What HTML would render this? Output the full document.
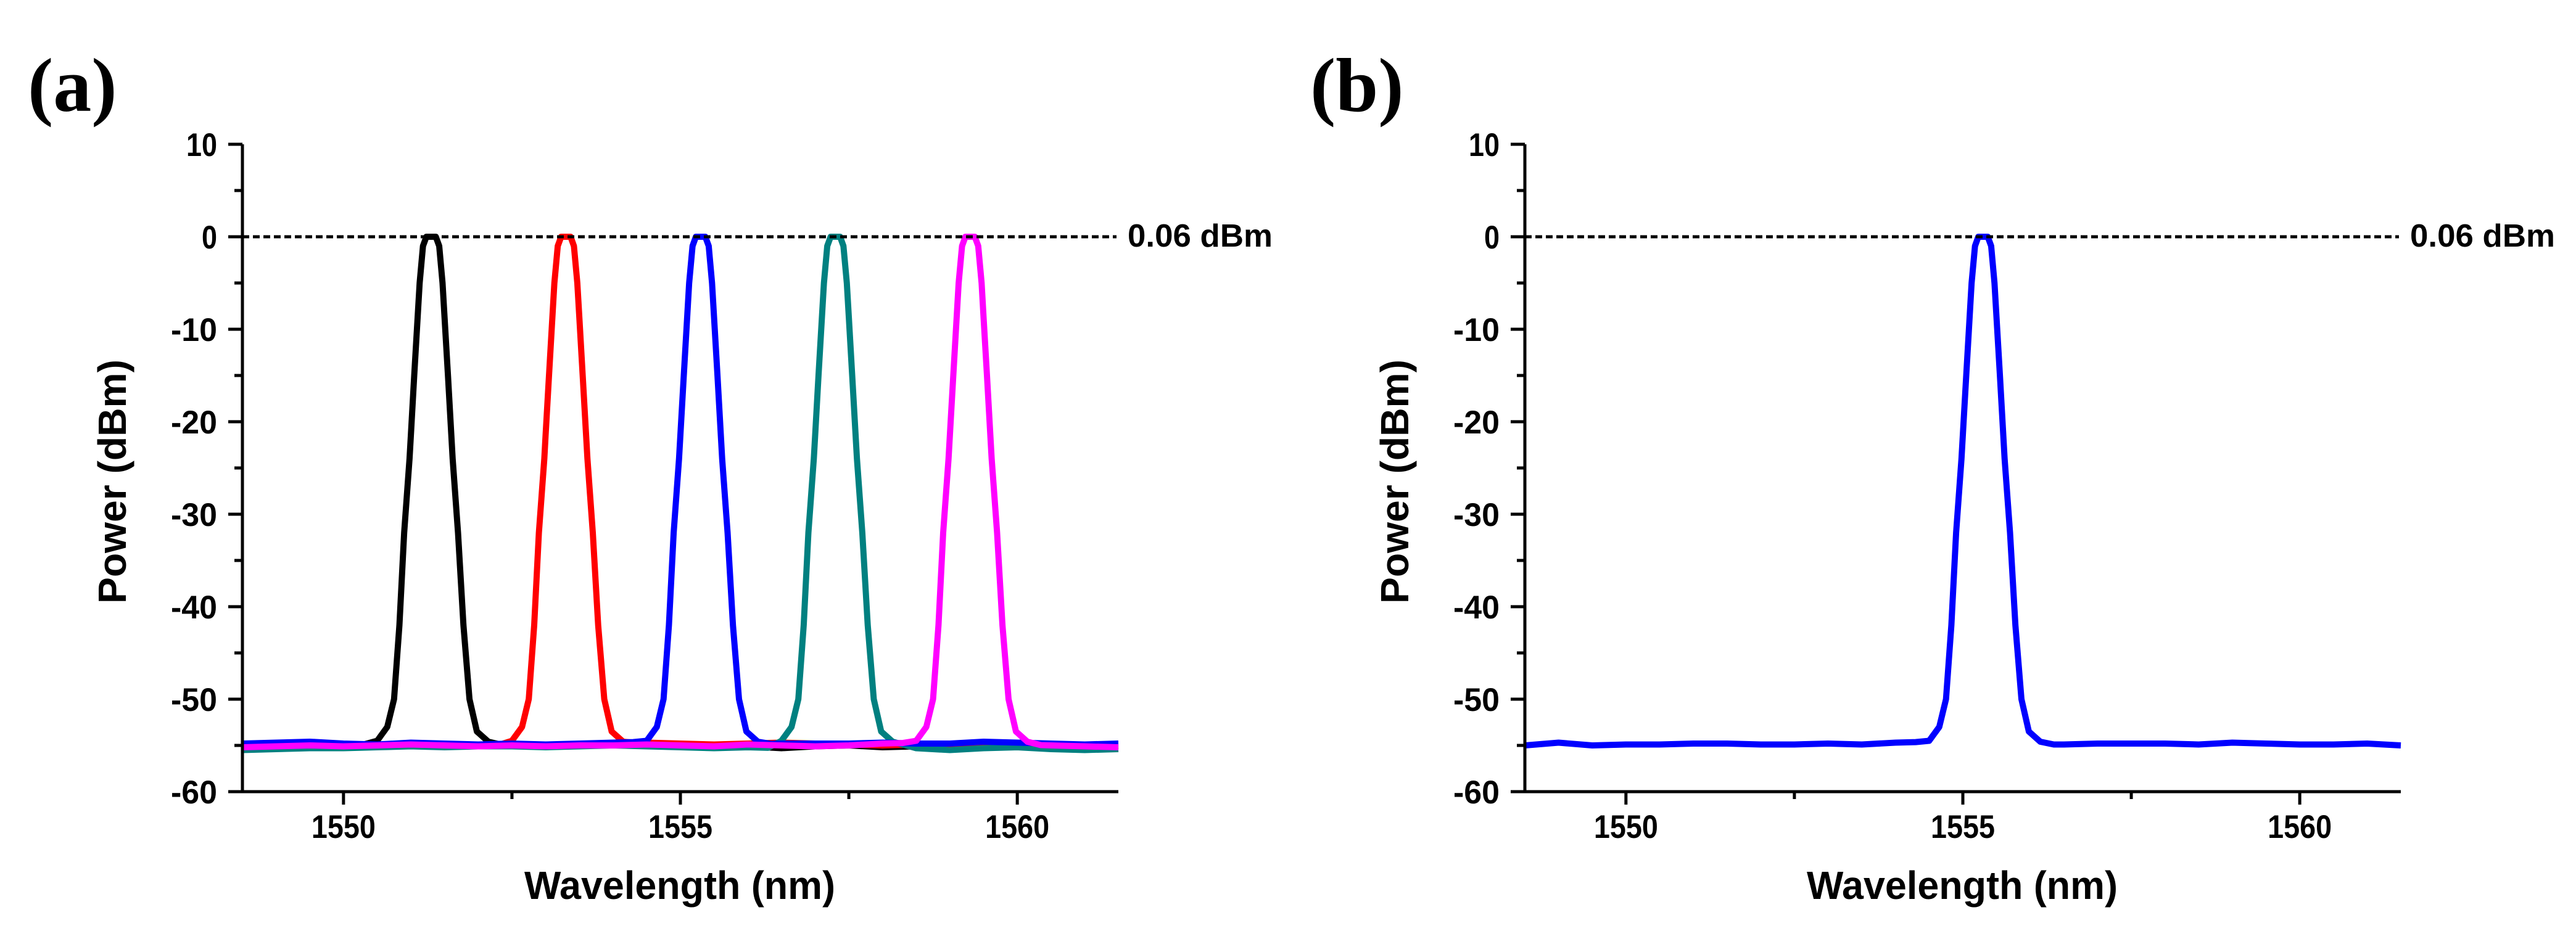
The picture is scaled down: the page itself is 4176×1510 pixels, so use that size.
<!DOCTYPE html>
<html><head><meta charset="utf-8">
<style>
html,body{margin:0;padding:0;background:#fff;}
svg{display:block;}
text{font-family:"Liberation Sans",Arial,sans-serif;font-weight:bold;fill:#000;}
.panel{font-family:"Liberation Serif","Times New Roman",serif;}
</style></head>
<body>
<svg id="chart" width="4176" height="1510" viewBox="0 0 4176 1510" xmlns="http://www.w3.org/2000/svg"></svg>
<script>
// ---- data ----
const xTicks = [1550, 1555, 1560];
const xMinorTicks = [1552.5, 1557.5];
const yTicks = [10, 0, -10, -20, -30, -40, -50, -60];
const yMinorTicks = [5, -5, -15, -25, -35, -45, -55];
const refLevel = 0;
const refLabel = "0.06 dBm";
const floorWl = [1548.5,1549,1549.5,1550,1550.5,1551,1551.5,1552,1552.5,1553,1553.5,1554,1554.5,1555,1555.5,1556,1556.5,1557,1557.5,1558,1558.5,1559,1559.5,1560,1560.5,1561,1561.5];
const floorBlack   = [-55.1,-55.0,-55.0,-54.9,-54.9,-54.8,-54.9,-55.0,-54.9,-55.0,-54.9,-54.8,-54.9,-54.9,-55.0,-55.1,-55.3,-55.1,-55.0,-55.2,-55.1,-55.0,-55.0,-55.1,-55.3,-55.2,-55.1];
const floorRed     = [-55.0,-54.9,-54.9,-55.0,-54.9,-54.8,-54.9,-54.9,-55.0,-54.9,-55.0,-54.8,-54.7,-54.8,-54.9,-54.8,-54.7,-54.8,-54.9,-55.0,-54.9,-55.0,-54.9,-54.8,-55.0,-55.1,-55.0];
const floorBlue    = [-54.8,-54.7,-54.6,-54.8,-54.9,-54.7,-54.8,-54.9,-54.8,-54.9,-54.8,-54.7,-54.6,-54.7,-54.8,-54.9,-54.8,-54.8,-54.8,-54.7,-54.8,-54.8,-54.6,-54.7,-54.8,-54.9,-54.8];
const floorTeal    = [-55.5,-55.4,-55.3,-55.3,-55.2,-55.1,-55.2,-55.1,-55.1,-55.2,-55.1,-55.0,-55.1,-55.2,-55.3,-55.2,-55.3,-55.2,-55.4,-55.2,-55.3,-55.5,-55.3,-55.2,-55.4,-55.5,-55.4];
const floorMagenta = [-55.2,-55.1,-55.0,-55.1,-55.0,-54.9,-55.0,-55.1,-55.0,-55.1,-55.0,-55.0,-54.9,-55.0,-55.1,-54.9,-55.0,-55.1,-55.0,-54.8,-54.7,-55.0,-54.9,-54.9,-55.0,-55.1,-55.2];
const floorB       = [-55.0,-54.7,-55.0,-54.9,-54.9,-54.8,-54.8,-54.9,-54.9,-54.8,-54.9,-54.7,-54.6,-54.7,-54.8,-54.9,-54.9,-54.8,-54.8,-54.8,-54.9,-54.7,-54.8,-54.9,-54.9,-54.8,-55.0];
const peakCentersA = [1551.3, 1553.3, 1555.3, 1557.3, 1559.3];
const peakCenterB = 1555.3;
const profileDx = [-1.0,-0.8,-0.65,-0.55,-0.47,-0.4,-0.32,-0.25,-0.17,-0.12,-0.07,0.07,0.12,0.17,0.25,0.32,0.4,0.48,0.57,0.68,0.85,1.05];
const profileDb = [-55,-54.5,-53,-50,-42,-32,-24,-15,-5,-1,0,0,-1,-5,-15,-24,-32,-42,-50,-53.5,-54.6,-55];
// ---- layout ----
const NS = "http://www.w3.org/2000/svg";
const svg = document.getElementById('chart');
const X0 = 393, X1 = 1813, Ytop = 234, Ybot = 1284;
const xMin = 1548.5, xMax = 1561.5, yMin = -60, yMax = 10;
function mk(tag, attrs, parent){ const e=document.createElementNS(NS,tag); for(const k in attrs) e.setAttribute(k,attrs[k]); (parent||svg).appendChild(e); return e; }
function interp(xs, ys, x){ if(x<=xs[0]) return ys[0]; for(let i=1;i<xs.length;i++){ if(x<=xs[i]){ const t=(x-xs[i-1])/(xs[i]-xs[i-1]); return ys[i-1]+t*(ys[i]-ys[i-1]); } } return ys[ys.length-1]; }
function seriesPoints(floor, center){
  const xs = floorWl.slice();
  profileDx.forEach(d=>xs.push(center+d));
  for(let w=-0.07; w<=0.07; w+=0.035) xs.push(center+w);
  xs.sort((a,b)=>a-b);
  return xs.filter(x=>x>=xMin&&x<=xMax).map(x=>{
    const f = interp(floorWl, floor, x);
    const d = x-center;
    const p = (d>profileDx[0] && d<profileDx[profileDx.length-1]) ? interp(profileDx, profileDb, d) : -999;
    return [x, Math.max(f,p)];
  });
}
function drawPanel(off, label, seriesList, pname){
  const g = mk('g',{});
  const sx = v => off + X0 + (v-xMin)/(xMax-xMin)*(X1-X0);
  const sy = v => Ybot - (v-yMin)/(yMax-yMin)*(Ybot-Ytop);
  const pl = mk('text',{x:off+45,y:180,'font-size':'124','class':'panel'},g); pl.textContent=label;
  
  
  seriesList.forEach(s=>{
    const pts = seriesPoints(s.floor, s.center).map(p=>sx(p[0]).toFixed(1)+','+sy(p[1]).toFixed(1)).join(' ');
    const l = mk('polyline',{points:pts,fill:'none',stroke:s.color,'stroke-width':'10','stroke-linejoin':'round'},g);
    
    
  });
  const rl = mk('line',{x1:sx(xMin),x2:off+1810,y1:sy(refLevel),y2:sy(refLevel),stroke:'#000','stroke-width':'5','stroke-dasharray':'11 6'},g);
  
  
  const rt = mk('text',{x:off+1828,y:400,'font-size':'52',textLength:'235',lengthAdjust:'spacingAndGlyphs'},g); rt.textContent=refLabel;
  
  
  const ax = mk('path',{d:`M${off+X0},${Ytop} V${Ybot} H${off+X1}`,fill:'none',stroke:'#000','stroke-width':'5'},g);
  
  
  yTicks.forEach(v=>{
    mk('line',{x1:off+X0-23,x2:off+X0,y1:sy(v),y2:sy(v),stroke:'#000','stroke-width':'5'},g);
    const t=mk('text',{x:off+352,y:sy(v)+19,'font-size':'53','text-anchor':'end',textLength:(String(v).length*25),lengthAdjust:'spacingAndGlyphs'},g); t.textContent=v;
    
    
  });
  yMinorTicks.forEach(v=>mk('line',{x1:off+X0-13,x2:off+X0,y1:sy(v),y2:sy(v),stroke:'#000','stroke-width':'5'},g));
  xTicks.forEach(v=>{
    mk('line',{x1:sx(v),x2:sx(v),y1:Ybot,y2:Ybot+21,stroke:'#000','stroke-width':'5'},g);
    const t=mk('text',{x:sx(v),y:1359,'font-size':'53','text-anchor':'middle',textLength:'104',lengthAdjust:'spacingAndGlyphs'},g); t.textContent=v;
    
    
  });
  xMinorTicks.forEach(v=>mk('line',{x1:sx(v),x2:sx(v),y1:Ybot,y2:Ybot+12,stroke:'#000','stroke-width':'5'},g));
  const xt=mk('text',{x:off+1102,y:1458,'font-size':'64','text-anchor':'middle',textLength:'504',lengthAdjust:'spacingAndGlyphs'},g); xt.textContent='Wavelength (nm)';
  
  
  const yt=mk('text',{x:0,y:0,'font-size':'64','text-anchor':'middle',textLength:'396',lengthAdjust:'spacingAndGlyphs',transform:`translate(${off+204},781) rotate(-90)`},g); yt.textContent='Power (dBm)';
  
  
}
drawPanel(0,'(a)',[
  {name:'series-black',color:'#000000',floor:floorBlack,center:peakCentersA[0]},
  {name:'series-red',color:'#ff0000',floor:floorRed,center:peakCentersA[1]},
  {name:'series-teal',color:'#008080',floor:floorTeal,center:peakCentersA[3]},
  {name:'series-blue',color:'#0000ff',floor:floorBlue,center:peakCentersA[2]},
  {name:'series-magenta',color:'#ff00ff',floor:floorMagenta,center:peakCentersA[4]}
],'panel-a');
drawPanel(2079,'(b)',[
  {name:'series-blue-b',color:'#0000ff',floor:floorB,center:peakCenterB}
],'panel-b');
</script>
</body></html>
